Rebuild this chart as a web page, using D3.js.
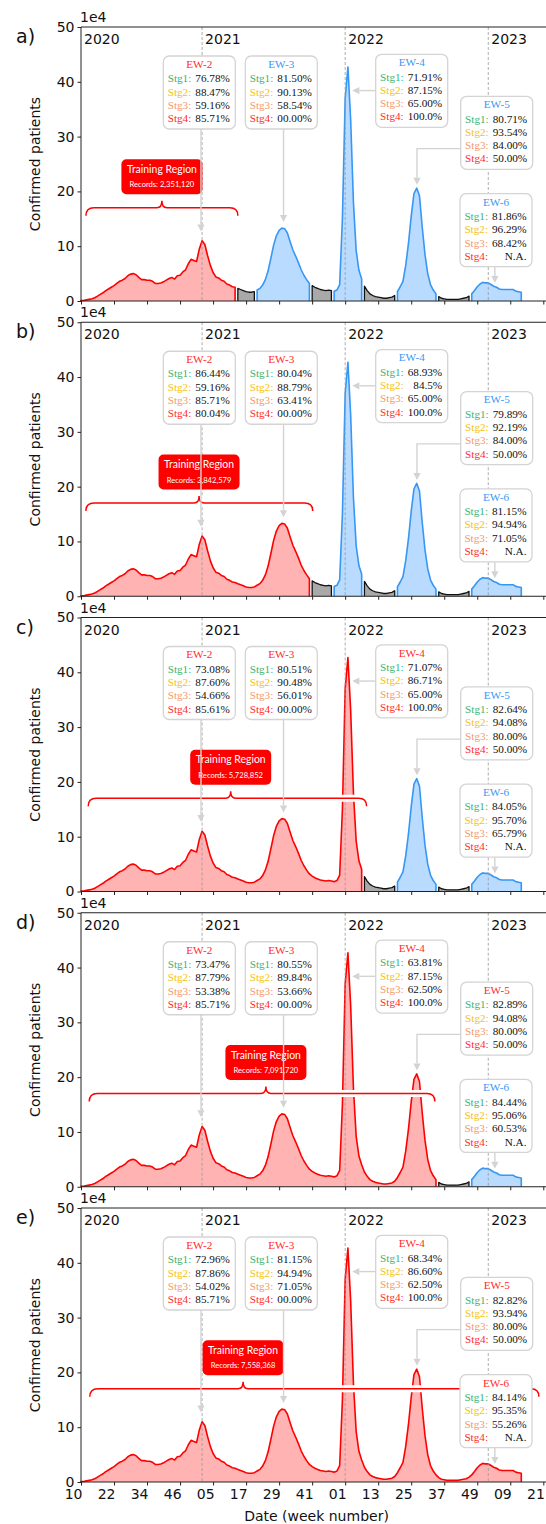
<!DOCTYPE html>
<html><head><meta charset="utf-8">
<script src="https://cdn.jsdelivr.net/npm/d3@7"></script>
<style>body{margin:0;background:#fff}svg{display:block}</style>
</head><body>
<script>
// ---------- DATA ----------
const weekLabels = ['10','22','34','46','05','17','29','41','01','13','25','37','49','09','21'];
const tickWeeks = [0,12,24,36,48,60,72,84,96,108,120,132,144,156,168];
const yTicks = [0,10,20,30,40,50];
const years = ['2020','2021','2022','2023'];
const yearStart = [0,44,96,148];   // week index of 1st week of each year
// weekly confirmed patients (x1e4), week index 0 = 2020 week 10
const cases = [
 0.1,0.1,0.2,0.3,0.4,0.6,0.9,1.2,1.5,1.9,
 2.2,2.5,2.8,3.2,3.6,3.8,4.1,4.6,4.9,5.0,
 4.8,4.3,3.9,3.9,3.8,3.8,3.6,3.2,3.2,3.3,
 3.5,3.8,4.1,4.3,4.0,4.6,4.7,5.3,5.7,6.8,
 7.6,7.4,7.2,9.5,11.0,10.3,8.3,6.5,5.2,4.4,
 4.2,3.8,3.6,3.1,2.9,2.6,2.5,2.3,2.1,1.9,
 1.7,1.6,1.6,1.7,2.0,2.3,2.9,3.9,5.5,7.8,
 10.2,11.9,12.9,13.3,13.2,12.4,10.8,9.3,8.2,7.0,
 5.7,4.7,3.9,3.2,2.8,2.5,2.3,2.1,2.0,1.9,
 2.0,1.9,1.8,2.0,3.0,15.0,37.0,42.7,33.0,18.0,
 9.2,5.6,4.0,2.7,1.9,1.3,1.0,0.8,0.7,0.6,
 0.5,0.5,0.6,0.7,1.0,1.7,2.6,3.6,6.5,10.5,
 15.5,19.6,20.6,19.2,13.5,8.5,5.0,3.0,2.0,1.3,
 0.8,0.5,0.4,0.3,0.3,0.3,0.3,0.3,0.4,0.5,
 0.6,0.9,1.3,1.9,2.6,3.1,3.4,3.3,3.3,3.0,
 2.7,2.5,2.2,2.1,2.1,2.1,2.1,2.1,1.8,1.7,
 1.6
];
// later segments: [firstWeek, lastWeek, kind]
const segStart = [57,64,84,92,103,115,130,142];
const segEnd   = [63,83,91,102,114,129,141,160];
const segKind  = ['gap','wave','gap','wave','gap','wave','gap','wave'];

const panelLabels = ['a)','b)','c)','d)','e)'];
const trainEnd = [56,83,102,129,160];
const records = ['2,351,120','3,842,579','5,728,852','7,091,720','7,558,368'];
const braceFrom = [1.8,1.8,2.6,3.0,3.2];
const braceTo   = [57.0,84.2,103.8,128.6,166.4];
const braceMid  = [29.4,42.9,54.4,67.2,58.9];

const ewNames = ['EW-2','EW-3','EW-4','EW-5','EW-6'];
const ewLastWeek = [56,83,102,129,160];
const stageNames = ['Stg1:','Stg2:','Stg3:','Stg4:'];
const accA = [['76.78%','88.47%','59.16%','85.71%'],['81.50%','90.13%','58.54%','00.00%'],['71.91%','87.15%','65.00%','100.0%'],['80.71%','93.54%','84.00%','50.00%'],['81.86%','96.29%','68.42%','N.A.']];
const accB = [['86.44%','59.16%','85.71%','80.04%'],['80.04%','88.79%','63.41%','00.00%'],['68.93%','84.5%','65.00%','100.0%'],['79.89%','92.19%','84.00%','50.00%'],['81.15%','94.94%','71.05%','N.A.']];
const accC = [['73.08%','87.60%','54.66%','85.61%'],['80.51%','90.48%','56.01%','00.00%'],['71.07%','86.71%','65.00%','100.0%'],['82.64%','94.08%','80.00%','50.00%'],['84.05%','95.70%','65.79%','N.A.']];
const accD = [['73.47%','87.79%','53.38%','85.71%'],['80.55%','89.84%','53.66%','00.00%'],['63.81%','87.15%','62.50%','100.0%'],['82.89%','94.08%','80.00%','50.00%'],['84.44%','95.06%','60.53%','N.A.']];
const accE = [['72.96%','87.86%','54.02%','85.71%'],['81.15%','94.94%','71.05%','00.00%'],['68.34%','86.60%','62.50%','100.0%'],['82.82%','93.94%','80.00%','50.00%'],['84.14%','95.35%','55.26%','N.A.']];
const accAll = [accA,accB,accC,accD,accE];

// ---------- LAYOUT / STYLE ----------
const W=546,H=1524;
const PT0=27, PSTEP=295.25, PH=274;
const xRight=552;
const x = d3.scaleLinear().domain([0,168]).range([81,543.3]);
const colors = {
  train:{stroke:'#ff0000',fill:'#ffb3b3'},
  wave:{stroke:'#3797f5',fill:'#b9dbff'},
  gap:{stroke:'#111',fill:'#a9a9a9'}
};
const stageColors = ['#3cb371','#f5c211','#f4996a','#ff2a2a'];
const boxPos = [[163.3,29],[245.3,29],[375.7,27.3],[460.7,69.3],[460,166.7]]; // x abs, y rel to panel top
const BW=72, BH=73;
const sans = "'DejaVu Sans', sans-serif";
const serif = "'Liberation Serif','Times New Roman',serif";

const svg = d3.select('body').append('svg').attr('width',W).attr('height',H);

panelLabels.forEach((lab,i)=>{
  const top = PT0 + i*PSTEP, bottom = top+PH;
  const y = d3.scaleLinear().domain([0,50]).range([bottom,top]);
  const g = svg.append('g');

  // segments
  const segs = [{a:0,b:trainEnd[i],k:'train'}];
  segStart.forEach((s,j)=>{ if(s>trainEnd[i]) segs.push({a:s,b:segEnd[j],k:segKind[j]}); });
  const area = d3.area().x(d=>x(d[0])).y0(y(0)).y1(d=>y(d[1]));
  const line = d3.line().x(d=>x(d[0])).y(d=>y(d[1]));
  segs.forEach(s=>{
    const pts = d3.range(s.a,s.b+1).map(k=>[k,cases[k]]);
    g.append('path').attr('d',area(pts)).attr('fill',colors[s.k].fill);
    g.append('path').attr('d',line([[s.a,0],...pts,[s.b,0]]))
      .attr('fill','none').attr('stroke',colors[s.k].stroke)
      .attr('stroke-width',s.k==='gap'?1.3:1.6).attr('stroke-linejoin','round');
  });

  // year separators
  yearStart.slice(1).forEach(w=>{
    g.append('line').attr('x1',x(w)).attr('x2',x(w)).attr('y1',top).attr('y2',bottom)
      .attr('stroke','#999').attr('stroke-width',0.8).attr('stroke-dasharray','3,2');
  });
  years.forEach((yr,j)=>{
    g.append('text').attr('x', j===0 ? x(0)+3 : x(yearStart[j])+3).attr('y',top+17)
      .attr('font-family',sans).attr('font-size',14).attr('fill','#111').text(yr);
  });

  // training brace (with white halo)
  const yb = y(17.0), x1=x(braceFrom[i]), x2=x(braceTo[i]), cx=x(braceMid[i]);
  const bp = `M${x1},${yb+8} Q${x1},${yb} ${x1+8},${yb} L${cx-5},${yb} Q${cx},${yb} ${cx},${yb-7} Q${cx},${yb} ${cx+5},${yb} L${x2-8},${yb} Q${x2},${yb} ${x2},${yb+8}`;
  g.append('path').attr('d',bp).attr('fill','none').attr('stroke','#fff').attr('stroke-width',7);
  g.append('path').attr('d',bp).attr('fill','none').attr('stroke','#ff0000').attr('stroke-width',1.5);
  // training label
  const tw=81, th=35, tx=cx-tw/2, ty=top+132.3;
  g.append('rect').attr('x',tx).attr('y',ty).attr('width',tw).attr('height',th).attr('rx',5).attr('fill','#ff0000');
  g.append('text').attr('x',cx).attr('y',ty+13.5).attr('text-anchor','middle')
    .attr('font-family',"Lato,'Open Sans',sans-serif").attr('font-size',11.5).attr('fill','#fff')
    .attr('textLength',70).attr('lengthAdjust','spacingAndGlyphs').text('Training Region');
  g.append('text').attr('x',cx).attr('y',ty+28).attr('text-anchor','middle')
    .attr('font-family',"Lato,'Open Sans',sans-serif").attr('font-size',7.6).attr('fill','#fff')
    .text('Records: '+records[i]);

  // arrows
  const arrow = (pts)=>{
    const n=pts.length, [tx2,ty2]=pts[n-1], [px,py]=pts[n-2];
    const dx=tx2-px, dy=ty2-py, L=Math.hypot(dx,dy), ux=dx/L, uy=dy/L, hl=7, hw=3.6;
    const bx=tx2-ux*hl, by=ty2-uy*hl;
    const lp=pts.slice(0,n-1).concat([[bx,by]]);
    g.append('path').attr('d',d3.line()(lp)).attr('fill','none').attr('stroke','#d3d3d3').attr('stroke-width',1.4);
    g.append('path').attr('d',`M${tx2},${ty2}L${bx-uy*hw},${by+ux*hw}L${bx+uy*hw},${by-ux*hw}Z`).attr('fill','#d3d3d3');
  };
  const bTop = j=>top+boxPos[j][1];
  arrow([[x(43.6),bTop(0)+BH],[x(43.6),y(12.7)]]);
  arrow([[x(73.6),bTop(1)+BH],[x(73.6),y(14.4)]]);
  arrow([[boxPos[2][0],y(38.4)],[x(98.6),y(38.4)]]);
  arrow([[boxPos[3][0],y(27.8)],[x(122.1),y(27.8)],[x(122.1),y(21.2)]]);
  arrow([[x(150.4),bTop(4)+BH],[x(150.4),y(3.3)]]);

  // EW boxes
  ewNames.forEach((nm,j)=>{
    const bx=boxPos[j][0], by=bTop(j);
    const inTrain = ewLastWeek[j] <= trainEnd[i];
    g.append('rect').attr('x',bx).attr('y',by).attr('width',BW).attr('height',BH).attr('rx',6)
      .attr('fill','#fff').attr('stroke','#d4d4d4').attr('stroke-width',1.3);
    g.append('text').attr('x',bx+BW/2).attr('y',by+11.8).attr('text-anchor','middle')
      .attr('font-family',serif).attr('font-size',11.2).attr('fill',inTrain?'#ff2a2a':'#3797f5').text(nm);
    accAll[i][j].forEach((v,s)=>{
      const yy=by+26.2+s*13.3;
      g.append('text').attr('x',bx+4.4).attr('y',yy).attr('font-family',serif).attr('font-size',11.2)
        .attr('fill',stageColors[s]).text(stageNames[s]);
      g.append('text').attr('x',bx+BW-5.5).attr('y',yy).attr('text-anchor','end').attr('font-family',serif)
        .attr('font-size',11.2).attr('fill','#111').text(v);
    });
  });

  // axes frame
  const fr = svg.append('g').attr('stroke','#222').attr('stroke-width',1);
  fr.append('line').attr('x1',x(0)).attr('x2',x(0)).attr('y1',top).attr('y2',bottom);
  fr.append('line').attr('x1',x(0)).attr('x2',xRight).attr('y1',top).attr('y2',top);
  fr.append('line').attr('x1',x(0)).attr('x2',xRight).attr('y1',bottom).attr('y2',bottom);

  const ya = svg.append('g').attr('transform',`translate(${x(0)},0)`)
    .call(d3.axisLeft(y).tickValues(yTicks).tickSize(3.5).tickPadding(3));
  ya.select('.domain').remove();
  ya.selectAll('line').attr('stroke','#222');
  ya.selectAll('text').attr('font-family',sans).attr('font-size',14).attr('fill','#111');

  const isLast = i===panelLabels.length-1;
  const xa = svg.append('g').attr('transform',`translate(0,${bottom})`)
    .call(d3.axisBottom(x).tickValues(tickWeeks).tickSize(3.5).tickPadding(4)
      .tickFormat((d,k)=> isLast ? weekLabels[k] : ''));
  xa.select('.domain').remove();
  xa.selectAll('line').attr('stroke','#222');
  xa.selectAll('text').attr('font-family',sans).attr('font-size',14).attr('fill','#111')
    .attr('text-anchor','end').attr('dx',1);

  svg.append('text').attr('x',80).attr('y',top-5).attr('font-family',sans).attr('font-size',14)
    .attr('fill','#111').text('1e4');
  svg.append('text').attr('x',16).attr('y',top+16).attr('font-family',sans).attr('font-size',19)
    .attr('fill','#111').text(lab);
  svg.append('text').attr('transform',`translate(40,${(top+bottom)/2}) rotate(-90)`)
    .attr('text-anchor','middle').attr('font-family',sans).attr('font-size',14).attr('fill','#111')
    .text('Confirmed patients');
});

svg.append('text').attr('x',(x(0)+xRight)/2).attr('y',1521).attr('text-anchor','middle')
  .attr('font-family',sans).attr('font-size',14).attr('fill','#111').text('Date (week number)');
</script>
</body></html>
